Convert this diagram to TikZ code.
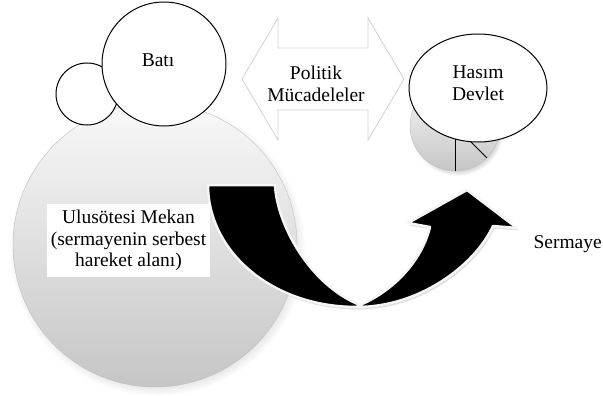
\documentclass[tikz,border=0pt]{standalone}
\usepackage{fontspec}
\setmainfont{Liberation Serif}
\usetikzlibrary{shapes.geometric}
\usetikzlibrary{shadows}
\tikzstyle{big text} = [font=\fontsize{19.5}{21.5}\selectfont, align=center, inner sep=2pt]
\tikzstyle{white circle} = [circle, draw=black, fill=white, line width=1pt, inner sep=0pt]
\tikzstyle{gray disc} = [circle, draw=gray!50, top color=gray!5, bottom color=gray!45, inner sep=0pt,
  circular drop shadow={opacity=.4, shadow scale=1.04, shadow xshift=2pt, shadow yshift=-3pt}]
\tikzstyle{band} = [fill=black, draw=gray!8, line width=2.5pt, line join=round,
  drop shadow={opacity=.25, shadow xshift=1.5pt, shadow yshift=-2.5pt}]

\begin{document}
\begin{tikzpicture}[x=1pt,y=-1pt]
  \useasboundingbox (0,0) rectangle (603,396);

  % ulusotesi mekan
  \node[gray disc, minimum size=284pt] (mekan) at (155,245) {};

  % bati
  \node[white circle, minimum size=62pt] (kucuk) at (87,94) {};
  \node[white circle, minimum size=124pt] (bati) at (164,64) {};
  \node[big text] (batitext) at ([xshift=-6pt,yshift=4pt]bati.center) {Batı};

  % politik mucadeleler
  \coordinate (PL) at (242,79);
  \coordinate (PR) at (404,79);
  \draw[gray!35, fill=white, line width=0.8pt, line join=miter]
    (PL) -- (278,18) -- (278,48) -- (368,48) -- (368,18) -- (PR)
    -- (368,140) -- (368,110) -- (278,110) -- (278,140) -- cycle;
  \node[big text] (politik) at (316,84) {Politik\\Mücadeleler};

  % hasim devlet
  \node[gray disc, minimum size=90pt] (pie) at (455,126) {};
  \draw[line width=0.8pt] (pie.center) -- (pie.south);
  \draw[line width=0.8pt] (pie.center) -- (pie.-45);
  \node[ellipse, draw=black, fill=white, line width=1pt, minimum width=138pt, minimum height=108pt] (hasim) at (478,88) {};
  \node[big text] (hasimtext) at ([yshift=5pt]hasim.center) {Hasım\\Devlet};

  % sermaye akisi
  \path[band] (208,185) -- (275,185)
    .. controls (277,225) and (310,285) .. (360,305)
    -- (357,307)
    .. controls (270,307) and (208,250) .. (208,185) -- cycle;
  \path[band] (360,305)
    .. controls (395,290) and (422,260) .. (430,227)
    -- (408,223) -- (467,190) -- (517,228) -- (493,226)
    .. controls (475,265) and (420,307) .. (357,307) -- cycle;

  \node[big text, fill=white, minimum width=163pt, minimum height=73pt] (mekantext) at (128.5,240.5)
    {Ulusötesi Mekan\\(sermayenin serbest\\hareket alanı)};
  \node[big text, anchor=east, inner sep=0pt] (sermaye) at (602,244) {Sermaye};
\end{tikzpicture}
\end{document}
